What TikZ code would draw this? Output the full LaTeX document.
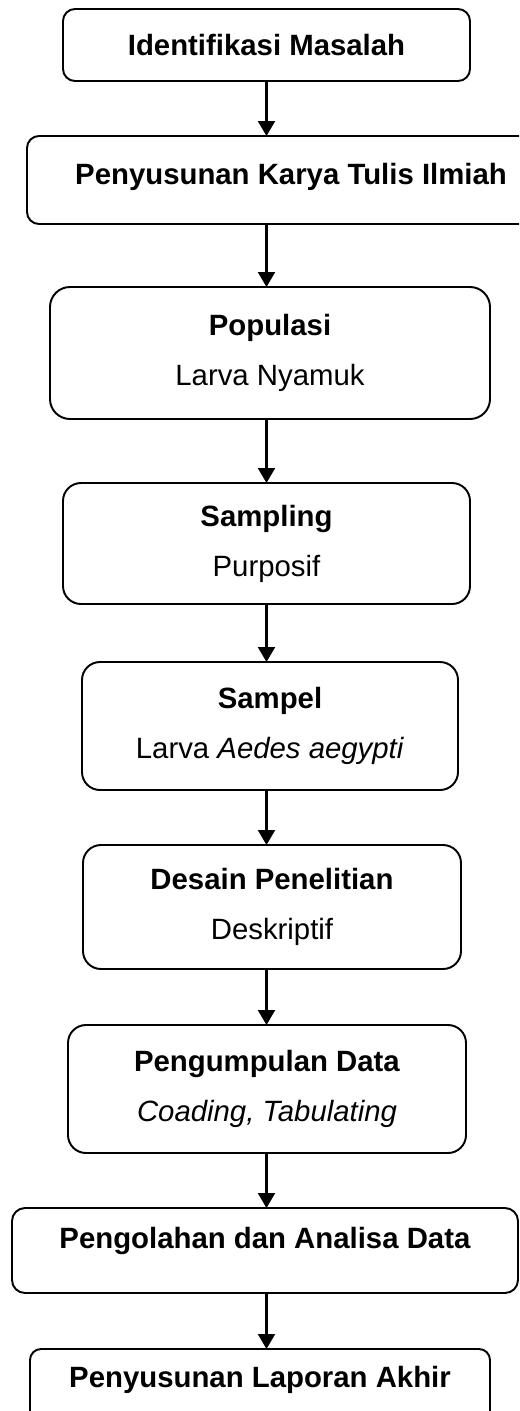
\documentclass[tikz,border=0pt]{standalone}
\usepackage{fontspec}
\setmainfont{Liberation Sans}
\usetikzlibrary{arrows.meta, positioning}

\begin{document}
\begin{tikzpicture}[node distance=1.1cm,
  stage/.style={rectangle, draw, rounded corners=0.36cm, align=center, inner sep=0pt, outer sep=0pt, line width=1.1pt, font=\fontsize{16.7}{28.5}\selectfont},
  arrow/.style={-{Triangle[length=0.3cm, width=0.34cm]}, line width=1.2pt}]
  \useasboundingbox (0,0) rectangle (10.38,-28.22);
  \clip (0,0) rectangle (10.38,-28.22);
  \node[stage, rounded corners=0.24cm, minimum width=8.14cm, minimum height=1.44cm] (ident) at (5.33,-0.9) {\textbf{Identifikasi Masalah}};
  \node[stage, rounded corners=0.24cm, minimum width=10.56cm, minimum height=1.76cm, text depth=0.24cm, below=1.1cm of ident, xshift=0.49cm] (kti) {\textbf{Penyusunan Karya Tulis Ilmiah}};
  \node[stage, rounded corners=0.4cm, minimum width=8.8cm, minimum height=2.64cm, below=1.26cm of kti, xshift=-0.42cm] (populasi) {\textbf{Populasi}\\Larva Nyamuk};
  \node[stage, minimum width=8.14cm, minimum height=2.42cm, below=1.28cm of populasi, xshift=-0.07cm] (sampling) {\textbf{Sampling}\\Purposif};
  \node[stage, minimum width=7.52cm, minimum height=2.56cm, below=1.16cm of sampling, xshift=0.07cm] (sampel) {\textbf{Sampel}\\Larva \textit{Aedes aegypti}};
  \node[stage, minimum width=7.56cm, minimum height=2.48cm, below=1.1cm of sampel, xshift=0.04cm] (desain) {\textbf{Desain Penelitian}\\Deskriptif};
  \node[stage, minimum width=7.96cm, minimum height=2.56cm, below=1.12cm of desain, xshift=-0.1cm] (kumpul) {\textbf{Pengumpulan Data}\\\textit{Coading, Tabulating}};
  \node[stage, rounded corners=0.26cm, minimum width=10.12cm, minimum height=1.7cm, text depth=0.52cm, below=1.1cm of kumpul, xshift=-0.04cm] (olah) {\textbf{Pengolahan dan Analisa Data}};
  \node[stage, rounded corners=0.22cm, minimum width=9.2cm, minimum height=1.52cm, text depth=0.4cm, below=1.12cm of olah, xshift=-0.1cm] (laporan) {\textbf{Penyusunan Laporan Akhir}};
  \draw[arrow] (ident.south) -- (kti.north -| ident.south);
  \draw[arrow] (kti.south -| ident.south) -- (populasi.north -| ident.south);
  \draw[arrow] (populasi.south -| ident.south) -- (sampling.north -| ident.south);
  \draw[arrow] (sampling.south -| ident.south) -- (sampel.north -| ident.south);
  \draw[arrow] (sampel.south -| ident.south) -- (desain.north -| ident.south);
  \draw[arrow] (desain.south -| ident.south) -- (kumpul.north -| ident.south);
  \draw[arrow] (kumpul.south -| ident.south) -- (olah.north -| ident.south);
  \draw[arrow] (olah.south -| ident.south) -- (laporan.north -| ident.south);
\end{tikzpicture}
\end{document}
